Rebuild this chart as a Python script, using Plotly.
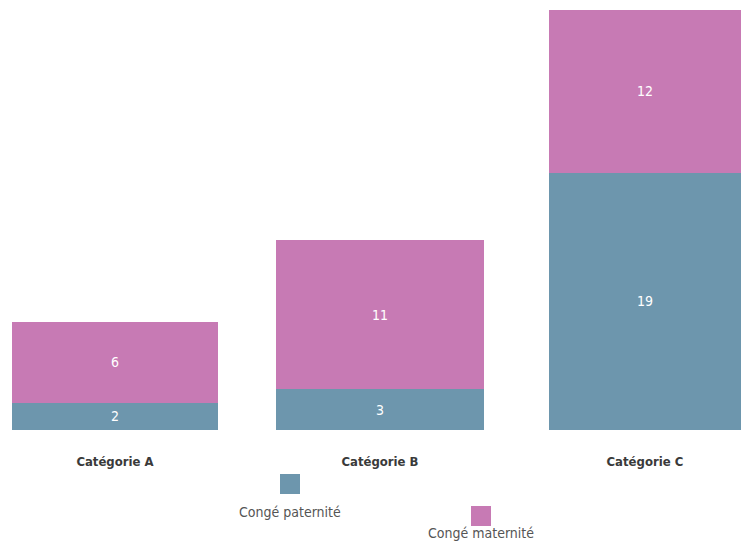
import plotly.graph_objects as go

categories = ["Catégorie A", "Catégorie B", "Catégorie C"]
paternite = [2, 3, 19]
maternite = [6, 11, 12]
series_names = ["Congé paternité", "Congé maternité"]
colors = ["#6d96ad", "#c77ab4"]

FONT = "DejaVu Sans Condensed, Liberation Sans Narrow, sans-serif"
BAR_WIDTHS = [0.775, 0.785, 0.725]

fig = go.Figure()
for name, vals, col in zip(series_names, [paternite, maternite], colors):
    fig.add_trace(go.Bar(
        x=list(range(len(categories))), y=vals, name=name,
        marker=dict(color=col, line=dict(width=0)),
        width=BAR_WIDTHS,
        text=[str(v) for v in vals], textposition="inside",
        insidetextanchor="middle", constraintext="none",
        textfont=dict(color="white", size=14, family=FONT),
        showlegend=False, hoverinfo="skip",
    ))


def paper_y(py):
    return (430 - py) / 420.0


def paper_x(px):
    return px / 748.0


# custom legend: square above its label, staggered
legend_items = [
    (series_names[0], colors[0], 290, 484, 522),
    (series_names[1], colors[1], 481, 516, 543),
]
for name, col, cx, sy, ty in legend_items:
    fig.add_shape(type="rect", xref="paper", yref="paper",
                  x0=paper_x(cx - 10), x1=paper_x(cx + 10),
                  y0=paper_y(sy + 10), y1=paper_y(sy - 10),
                  fillcolor=col, line=dict(width=0))
    fig.add_annotation(text=name, xref="paper", yref="paper",
                       x=paper_x(cx), y=paper_y(ty), showarrow=False,
                       font=dict(family=FONT, size=14, color="#555555"))

fig.update_layout(
    barmode="stack",
    width=748, height=558,
    margin=dict(l=0, r=0, t=10, b=128, autoexpand=False),
    paper_bgcolor="white", plot_bgcolor="white",
    xaxis=dict(range=[-0.434, 2.389], tickmode="array",
               tickvals=list(range(len(categories))), ticktext=categories,
               showgrid=False, zeroline=False, showline=False,
               ticks="", ticklabelstandoff=22, automargin=False,
               tickfont=dict(family=FONT, size=13, color="#3a3a3a", weight="bold")),
    yaxis=dict(range=[0, 31], visible=False, automargin=False),
)

fig.write_html("out.html", config={"displayModeBar": False},
               post_script="document.body.style.margin='0';document.body.style.padding='0';")
